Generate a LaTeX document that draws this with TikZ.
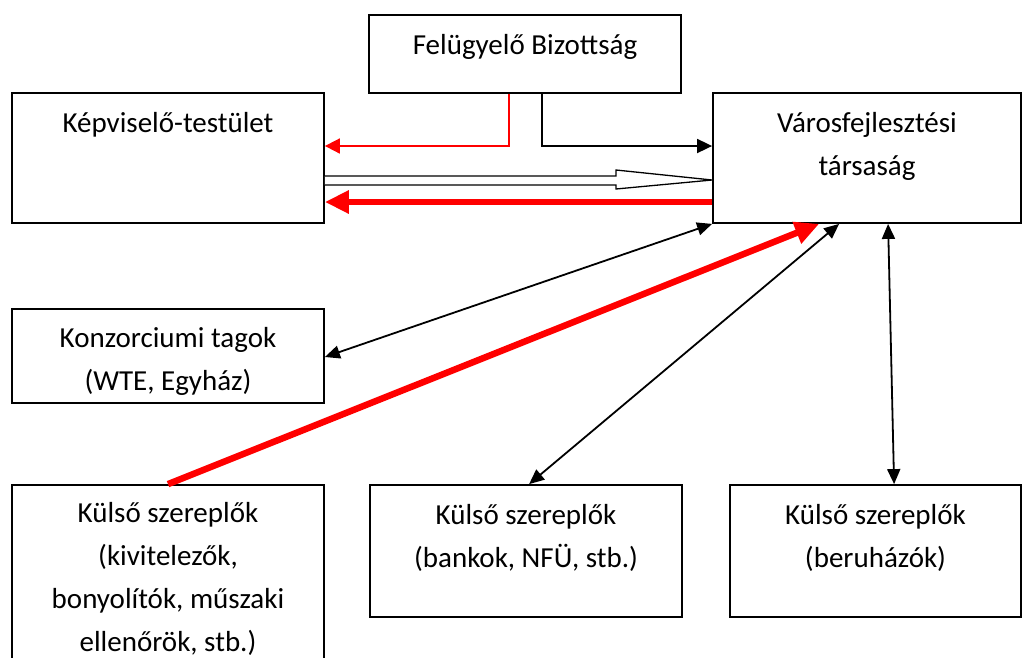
\documentclass[tikz,border=0pt]{standalone}
\usepackage{fontspec}
\setmainfont{Carlito}
\usetikzlibrary{arrows.meta,calc}
\definecolor{myred}{RGB}{255,0,0}
\tikzset{
  box/.style={draw=black, line width=1.8pt, fill=white, inner sep=0pt},
  lbl/.style={align=center, inner sep=0pt, font=\fontsize{29}{43}\selectfont},
  thinarr/.style={draw=black, line width=1.8pt, -{Triangle[length=15pt,width=14pt]}},
  dblarr/.style={draw=black, line width=1.8pt, {Triangle[length=15pt,width=13pt]}-{Triangle[length=15pt,width=13pt]}},
  redthin/.style={draw=myred, line width=1.8pt, -{Triangle[length=15pt,width=15pt]}},
  redthick/.style={draw=myred, line width=6.5pt, -{Triangle[length=24pt,width=22pt]}},
  hollow/.style={draw=black, line width=1.3pt, fill=white, line join=miter},
}
\begin{document}
\begin{tikzpicture}[x=1pt,y=-1pt]
\useasboundingbox[fill=white] (0,0) rectangle (1029,657);
% boxes
\node[box, minimum width=312pt, minimum height=78pt] (fb) at (525,54) {};
\node[box, minimum width=312pt, minimum height=130pt] (kt) at (168,158) {};
\node[box, minimum width=308pt, minimum height=130pt] (vt) at (867,158) {};
\node[box, minimum width=312pt, minimum height=94pt] (kz) at (168,356) {};
\node[box, minimum width=312pt, minimum height=230pt] (k1) at (168,600) {};
\node[box, minimum width=312pt, minimum height=132pt] (k2) at (526,551) {};
\node[box, minimum width=291pt, minimum height=132pt] (k3) at (875.5,551) {};
% labels (anchor=base is the baseline of the last line)
\node[lbl, anchor=base] (tfb) at ([yshift=-40pt]fb.north) {Felügyelő Bizottság};
\node[lbl, anchor=base] (tkt) at ([yshift=-40pt]kt.north) {Képviselő-testület};
\node[lbl, anchor=base] (tvt) at ([yshift=-83pt]vt.north) {Városfejlesztési\\társaság};
\node[lbl, anchor=base] (tkz) at ([yshift=-82pt]kz.north) {Konzorciumi tagok\\(WTE, Egyház)};
\node[lbl, anchor=base] (tk1) at ([yshift=-167pt]k1.north) {Külső szereplők\\(kivitelezők,\\bonyolítók, műszaki\\ellenőrök, stb.)};
\node[lbl, anchor=base] (tk2) at ([yshift=-83pt]k2.north) {Külső szereplők\\(bankok, NFÜ, stb.)};
\node[lbl, anchor=base] (tk3) at ([yshift=-83pt]k3.north) {Külső szereplők\\(beruházók)};
% helper levels
\coordinate (y146) at (0,146);
\coordinate (y176) at (0,176);
\coordinate (y185) at (0,185);
\coordinate (y170) at (616,170);
\coordinate (y189) at (616,189);
\coordinate (y180) at (0,180);
\coordinate (y202) at (0,202);
% connectors
\draw[redthin] ([xshift=141pt]fb.south west) |- (kt.east |- y146);
\draw[thinarr] ([xshift=174pt]fb.south west) |- (vt.west |- y146);
\draw[hollow] (kt.east |- y176) -- (y170 |- y176) -- (y170) -- (vt.west |- y180) -- (y189) -- (y189 |- y185) -- (kt.east |- y185);
\draw[redthick] (vt.west |- y202) -- (kt.east |- y202);
\draw[dblarr] (vt.south west) -- ([yshift=-1pt]kz.east);
\draw[redthick] (k1.north) -- ([xshift=107pt]vt.south west);
\draw[dblarr] ([xshift=160pt]k2.north west) -- ([xshift=127pt]vt.south west);
\draw[dblarr] ([xshift=176pt]vt.south west) -- ([xshift=165pt]k3.north west);
\end{tikzpicture}
\end{document}
